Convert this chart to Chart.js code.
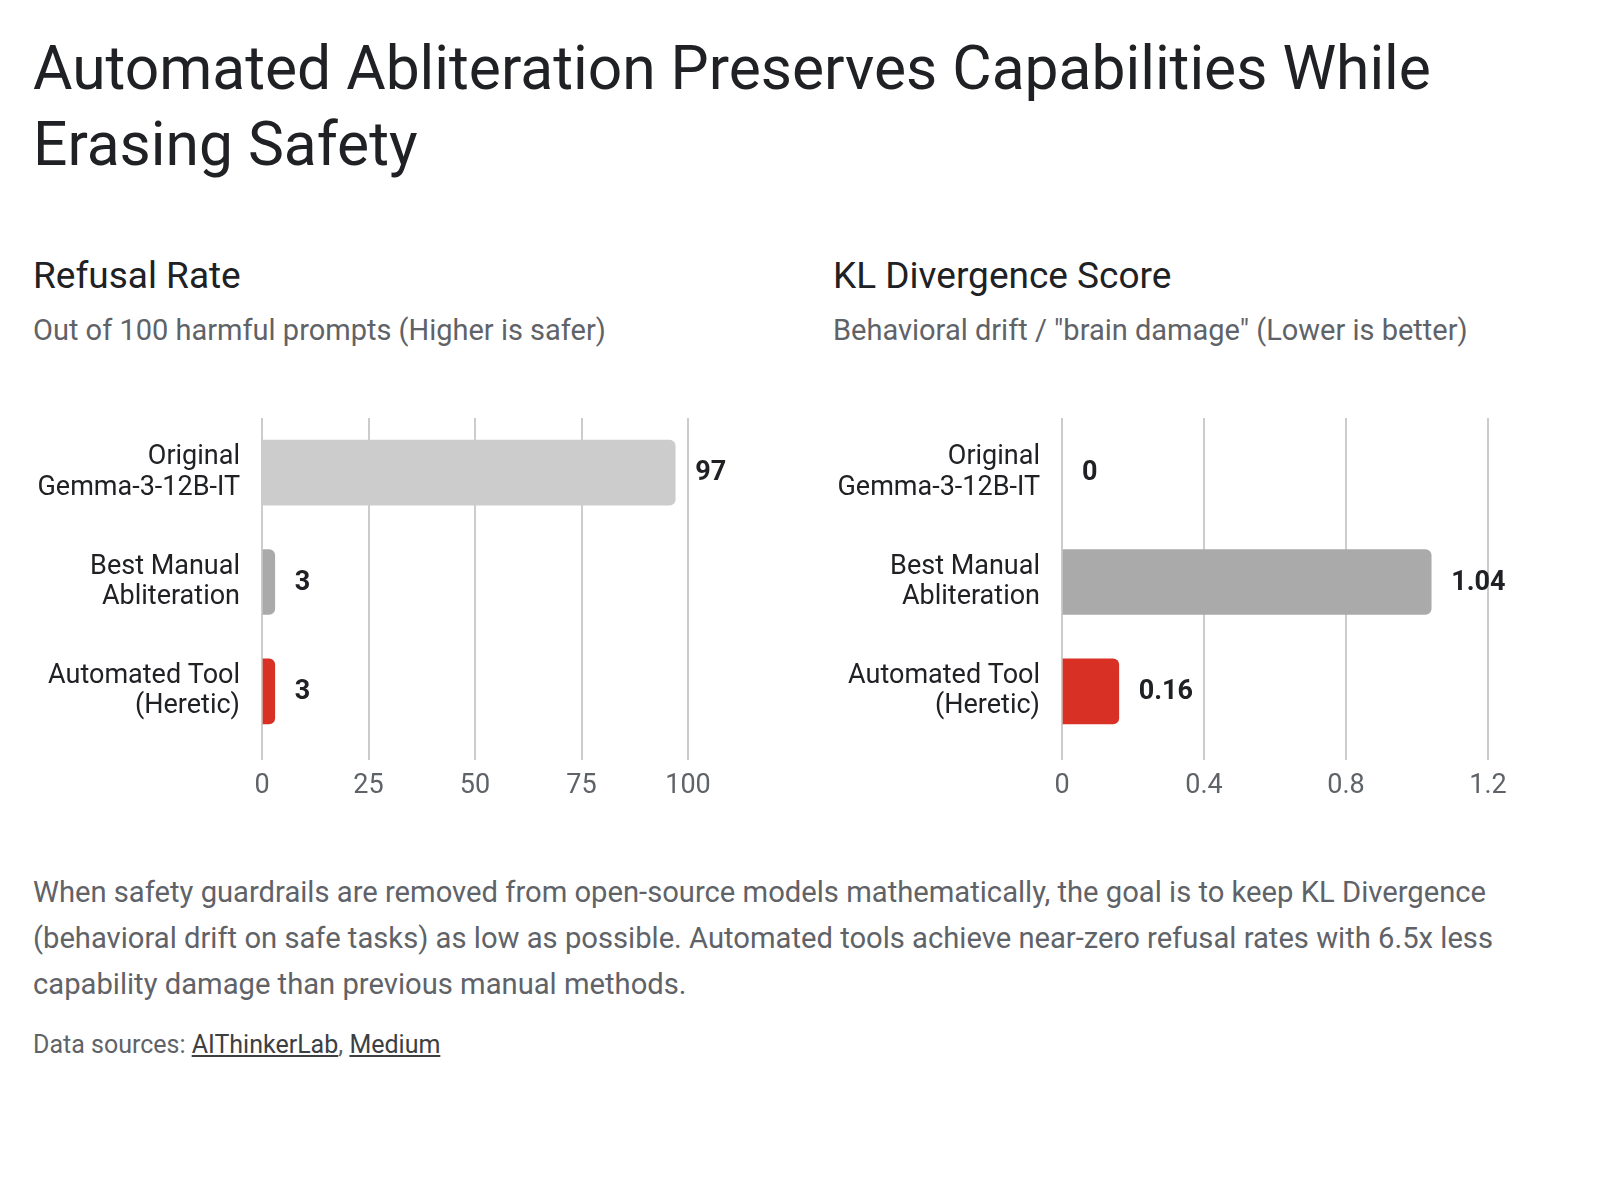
<!DOCTYPE html>
<html>
<head>
<meta charset="utf-8">
<script src="https://cdn.jsdelivr.net/npm/chart.js@4.4.1/dist/chart.umd.min.js"></script>
<style>
  body { margin: 0; background: #fff; font-family: Roboto, "Noto Sans", sans-serif; }
  #page { position: relative; width: 1600px; height: 1200px; overflow: hidden; }
  .abs { position: absolute; white-space: nowrap; }
  #title { left: 33px; top: 31px; font-size: 60.5px; line-height: 76px; color: #202124; }
  .ptitle { font-size: 37px; line-height: 40px; color: #202124; top: 256px; }
  .psub { font-size: 29px; line-height: 32px; color: #5f6368; top: 314px; }
  #body { left: 33px; top: 869px; font-size: 29.2px; line-height: 46px; color: #5f6368; }
  #src { left: 33px; top: 1030px; font-size: 25px; line-height: 30px; color: #5f6368; }
  #src a { color: #3c4043; text-decoration: underline; }
  .box { position: absolute; top: 400px; width: 740px; height: 410px; }
</style>
</head>
<body>
<div id="page">
  <div id="title" class="abs">Automated Abliteration Preserves Capabilities While<br>Erasing Safety</div>

  <div class="abs ptitle" style="left:33px">Refusal Rate</div>
  <div class="abs psub" style="left:33px">Out of 100 harmful prompts (Higher is safer)</div>
  <div class="abs ptitle" style="left:833px">KL Divergence Score</div>
  <div class="abs psub" style="left:833px">Behavioral drift / "brain damage" (Lower is better)</div>

  <div class="box" style="left:33px"><canvas id="chart1"></canvas></div>
  <div class="box" style="left:833px"><canvas id="chart2"></canvas></div>

  <div id="body" class="abs">When safety guardrails are removed from open-source models mathematically, the goal is to keep KL Divergence<br>(behavioral drift on safe tasks) as low as possible. Automated tools achieve near-zero refusal rates with 6.5x less<br>capability damage than previous manual methods.</div>
  <div id="src" class="abs">Data sources: <a href="#">AIThinkerLab</a>, <a href="#">Medium</a></div>
</div>

<script>
var categories = [
  ["Original", "Gemma-3-12B-IT"],
  ["Best Manual", "Abliteration"],
  ["Automated Tool", "(Heretic)"]
];
var refusalRate = [97, 3, 3];
var klDivergence = [0, 1.04, 0.16];
var refusalTicks = [0, 25, 50, 75, 100];
var klTicks = [0, 0.4, 0.8, 1.2];
var barColors = ["#cccccc", "#aaaaaa", "#d93025"];

// draws the number just after the end of each bar
var valueLabels = {
  id: "valueLabels",
  afterDatasetsDraw: function(chart) {
    var ctx = chart.ctx;
    var meta = chart.getDatasetMeta(0);
    var values = chart.data.datasets[0].data;
    ctx.save();
    ctx.font = "bold 27px Roboto, sans-serif";
    ctx.fillStyle = "#202124";
    ctx.textAlign = "left";
    ctx.textBaseline = "middle";
    for (var i = 0; i < meta.data.length; i++) {
      var bar = meta.data[i];
      ctx.fillText(String(values[i]), bar.x + 20, bar.y + 1);
    }
    ctx.restore();
  }
};

function makeChart(id, values, ticks) {
  var ctx = document.getElementById(id).getContext("2d");
  return new Chart(ctx, {
    type: "bar",
    data: {
      labels: categories,
      datasets: [{
        data: values,
        backgroundColor: barColors,
        borderRadius: 6,
        borderSkipped: "start",
        barThickness: 65
      }]
    },
    options: {
      indexAxis: "y",
      responsive: true,
      maintainAspectRatio: false,
      animation: false,
      events: [],
      layout: { padding: { top: 18, right: 85, left: 0, bottom: 0 } },
      plugins: {
        legend: { display: false },
        tooltip: { enabled: false },
        title: { display: false }
      },
      scales: {
        x: {
          min: ticks[0],
          max: ticks[ticks.length - 1],
          afterBuildTicks: function(scale) {
            scale.ticks = ticks.map(function(v) { return { value: v }; });
          },
          afterFit: function(scale) {
            scale.height = 64;
            scale.paddingLeft = 0;
            scale.paddingRight = 0;
          },
          grid: { color: "#cccccc", lineWidth: 2, drawTicks: true, tickLength: 14 },
          border: { display: false },
          ticks: {
            padding: 10,
            color: "#5f6368",
            font: { family: "Roboto", size: 27 },
            callback: function(v) { return String(v); }
          }
        },
        y: {
          afterFit: function(scale) {
            scale.width = 229;
            scale.paddingTop = 0;
            scale.paddingBottom = 0;
          },
          grid: { display: false, drawTicks: false },
          border: { display: false },
          ticks: {
            padding: 22,
            color: "#202124",
            font: { family: "Roboto", size: 27, lineHeight: 1.12 }
          }
        }
      }
    },
    plugins: [valueLabels]
  });
}

var chart1 = makeChart("chart1", refusalRate, refusalTicks);
var chart2 = makeChart("chart2", klDivergence, klTicks);
</script>
</body>
</html>
